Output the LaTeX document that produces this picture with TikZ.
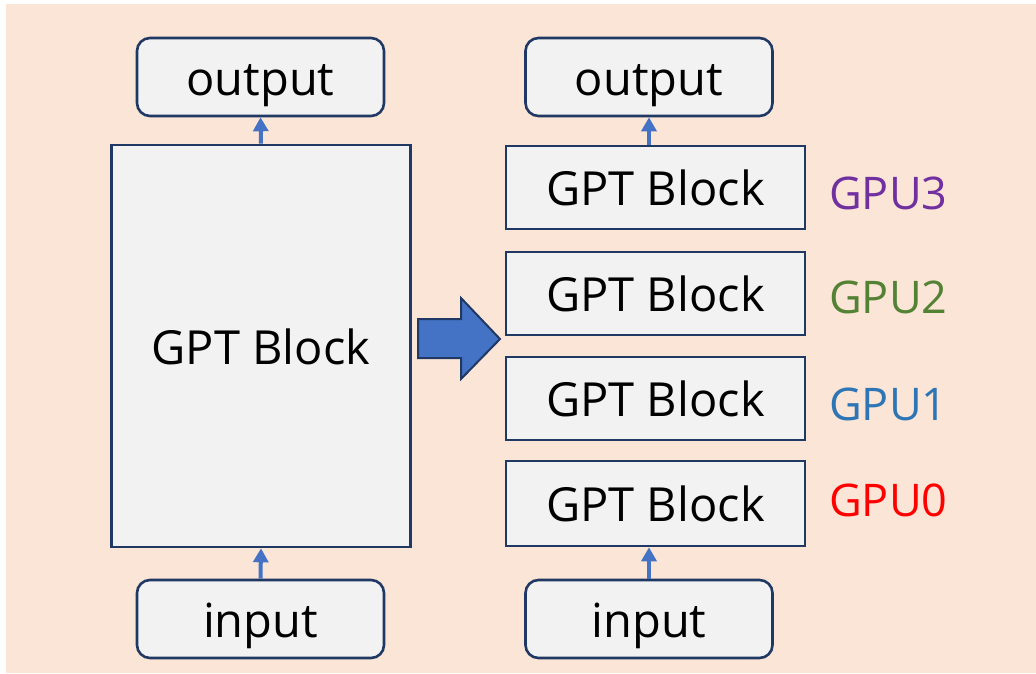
\documentclass[tikz,border=0pt]{standalone}
\usepackage{fontspec}
\setmainfont{Open Sans}
\usetikzlibrary{arrows.meta}
\definecolor{peach}{HTML}{FBE5D6}
\definecolor{boxfill}{HTML}{F2F2F2}
\definecolor{navy}{HTML}{203864}
\definecolor{flow}{HTML}{4472C4}
\definecolor{gputhree}{HTML}{7030A0}
\definecolor{gputwo}{HTML}{548235}
\definecolor{gpuone}{HTML}{2E75B6}
\definecolor{gpuzero}{HTML}{FF0000}
\tikzset{
  x=1pt, y=-1pt,
  boxtext/.style={font=\fontsize{47}{47}\selectfont, text height=36pt, text depth=0pt},
  iobox/.style={draw=navy, line width=2.6pt, fill=boxfill, rounded corners=13pt,
    minimum width=247pt, minimum height=78pt, inner sep=0pt, boxtext},
  blockbox/.style={draw=navy, line width=2.6pt, fill=boxfill,
    minimum width=299pt, inner sep=0pt, boxtext},
  gpulabel/.style={anchor=west, inner sep=0pt, font=\fontsize{45}{45}\selectfont},
  flowarrow/.style={draw=flow, line width=4pt, -{Triangle[width=15pt,length=14pt]}},
}
\begin{document}
\begin{tikzpicture}
  % canvas
  \useasboundingbox (0,0) rectangle (1036,673);
  \fill[white] (0,0) rectangle (1036,673);
  \fill[peach] (6,4) rectangle (1036,673);

  % single-device model
  \node[iobox] (outL) at (260.5,77) {output};
  \node[blockbox, minimum height=402pt] (gptL) at (261,346) {GPT Block};
  \node[iobox] (inL) at (260.5,619) {input};
  \draw[flowarrow] (gptL.north) -- (outL.south);
  \draw[flowarrow] (inL.north) -- (gptL.south);

  % transition arrow
  \fill[flow, draw=navy, line width=2pt, line join=miter]
    (418,319) -- (461,319) -- (461,298) -- (500,339) -- (461,379) -- (461,358) -- (418,358) -- cycle;

  % pipeline split over four GPUs
  \node[iobox] (outR) at (649,77) {output};
  \node[blockbox, minimum height=83pt] (b3) at (655.5,187.5) {GPT Block};
  \node[blockbox, minimum height=83pt] (b2) at (655.5,293.5) {GPT Block};
  \node[blockbox, minimum height=83pt] (b1) at (655.5,398.5) {GPT Block};
  \node[blockbox, minimum height=85pt] (b0) at (655.5,503.5) {GPT Block};
  \node[iobox] (inR) at (649,619) {input};
  \draw[flowarrow] (b3.north -| outR.south) -- (outR.south);
  \draw[flowarrow] (inR.north) -- (b0.south -| inR.north);

  \node[gpulabel, text=gputhree] (g3) at (829,193) {GPU3};
  \node[gpulabel, text=gputwo]   (g2) at (829,297) {GPU2};
  \node[gpulabel, text=gpuone]   (g1) at (829,404) {GPU1};
  \node[gpulabel, text=gpuzero]  (g0) at (829,500) {GPU0};
\end{tikzpicture}
\end{document}
